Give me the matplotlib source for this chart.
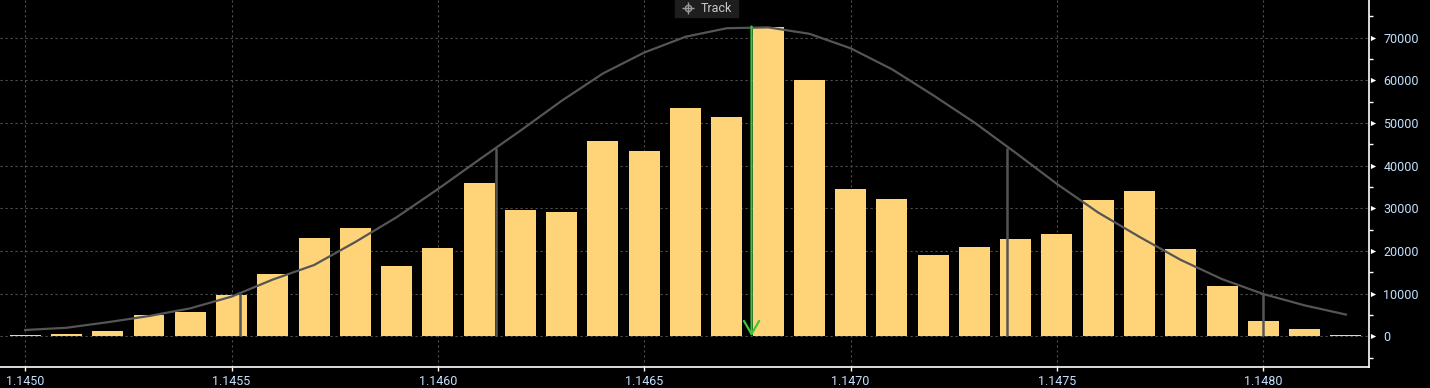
import matplotlib
matplotlib.use("Agg")
import matplotlib.pyplot as plt
from matplotlib.ticker import MultipleLocator, FormatStrFormatter
from matplotlib import transforms

# price levels (bins)
prices = [1.1450, 1.1451, 1.1452, 1.1453, 1.1454, 1.1455, 1.1456, 1.1457,
          1.1458, 1.1459, 1.1460, 1.1461, 1.1462, 1.1463, 1.1464, 1.1465,
          1.1466, 1.1467, 1.1468, 1.1469, 1.1470, 1.1471, 1.1472, 1.1473,
          1.1474, 1.1475, 1.1476, 1.1477, 1.1478, 1.1479, 1.1480, 1.1481,
          1.1482]

# volume at each price
volume = [300, 540, 1240, 5000, 5700, 9700, 14600, 23000,
          25400, 16500, 20700, 35950, 29600, 29150, 45800, 43400,
          53500, 51400, 72400, 60100, 34500, 32200, 19050, 20900,
          22800, 24000, 31950, 34050, 20450, 11800, 3600, 1700,
          250]

# fitted distribution curve
curve = [1480, 2000, 3300, 4750, 6550, 9300, 13300, 16700,
         22100, 27900, 34500, 41400, 48200, 55200, 61600, 66500,
         70200, 72200, 72400, 70900, 67500, 62600, 56500, 50100,
         43000, 35700, 29000, 23300, 17900, 13400, 9900, 7250,
         5100]

# mean and +-1 / +-2 sigma markers
mean_price = 1.14676
mean_height = 72600
sigma_prices = [1.14552, 1.14614, 1.14738, 1.14800]
sigma_heights = [10000, 44100, 44100, 9900]

bar_color = '#ffd479'
line_color = '#555555'
green = '#3cc83c'
label_color = '#c4e0ff'
grid_color = '#505050'

plt.rcParams['font.family'] = ['Roboto', 'DejaVu Sans']

fig = plt.figure(figsize=(14.3, 3.88), dpi=100, facecolor='black')
ax = fig.add_axes([0.0, 0.0549, 0.9576, 0.9451])
ax.set_facecolor('black')

# grid below everything
ax.set_axisbelow(True)
ax.grid(True, which='major', color=grid_color, linestyle=(0, (2, 2.5)), lw=0.8)

ax.bar(prices, volume, width=0.000075, color=bar_color, zorder=2)
ax.plot(prices, curve, color=line_color, lw=1.6, zorder=3)
ax.vlines(sigma_prices, 0, sigma_heights, color=line_color, lw=1.8, zorder=3)

# mean line with arrow head at the bottom
ax.annotate('', xy=(mean_price, 0), xytext=(mean_price, mean_height),
            arrowprops=dict(arrowstyle='->,head_length=0.95,head_width=0.55',
                            color=green, lw=1.6, shrinkA=0, shrinkB=0),
            zorder=4)

ax.set_xlim(1.144939, 1.148257)
ax.set_ylim(-7125, 78814)

# x axis
ax.xaxis.set_major_locator(MultipleLocator(0.0005))
ax.xaxis.set_major_formatter(FormatStrFormatter('%.4f'))
ax.tick_params(axis='x', colors='white', labelcolor=label_color, length=3,
               width=1, pad=3, labelsize=9)

# y axis on the right
ax.yaxis.tick_right()
ax.yaxis.set_major_locator(MultipleLocator(10000))
ax.yaxis.set_minor_locator(MultipleLocator(5000))
ax.yaxis.set_major_formatter(FormatStrFormatter('%d'))
ax.tick_params(axis='y', which='major', length=0, pad=10,
               labelcolor=label_color, labelsize=9)
ax.tick_params(axis='y', which='minor', length=3, width=1, colors='white')
ax.set_yticks(range(0, 80000, 10000))

# small triangle pointers for the major y ticks
tri = transforms.offset_copy(ax.get_yaxis_transform(), fig=fig, x=3.5, y=0,
                             units='dots')
ax.scatter([1.0] * 8, range(0, 80000, 10000), marker='>', s=14, color='white',
           transform=tri, clip_on=False, zorder=5, linewidths=0)

for side in ['left', 'top']:
    ax.spines[side].set_visible(False)
for side in ['right', 'bottom']:
    ax.spines[side].set_color('white')
    ax.spines[side].set_linewidth(1.2)

# "Track" tag at the top
fig.patches.append(plt.Rectangle((675 / 1430, 1 - 17 / 388), 63 / 1430, 17 / 388,
                                 transform=fig.transFigure, color='#1e1e1e',
                                 zorder=6))
fig.text(701 / 1430, 1 - 8 / 388, 'Track', color='#c8c8c8', fontsize=9,
         va='center', ha='left', zorder=7)
fig.lines.append(plt.Line2D([688 / 1430], [1 - 8 / 388], marker='+',
                            markersize=9, color='#9a9a9a', mew=1,
                            transform=fig.transFigure, zorder=7))
fig.lines.append(plt.Line2D([688 / 1430], [1 - 8 / 388], marker='o',
                            markersize=4.5, mfc='none', mec='#9a9a9a', mew=1,
                            transform=fig.transFigure, zorder=7))

fig.savefig('out.png', dpi=100, facecolor='black')
